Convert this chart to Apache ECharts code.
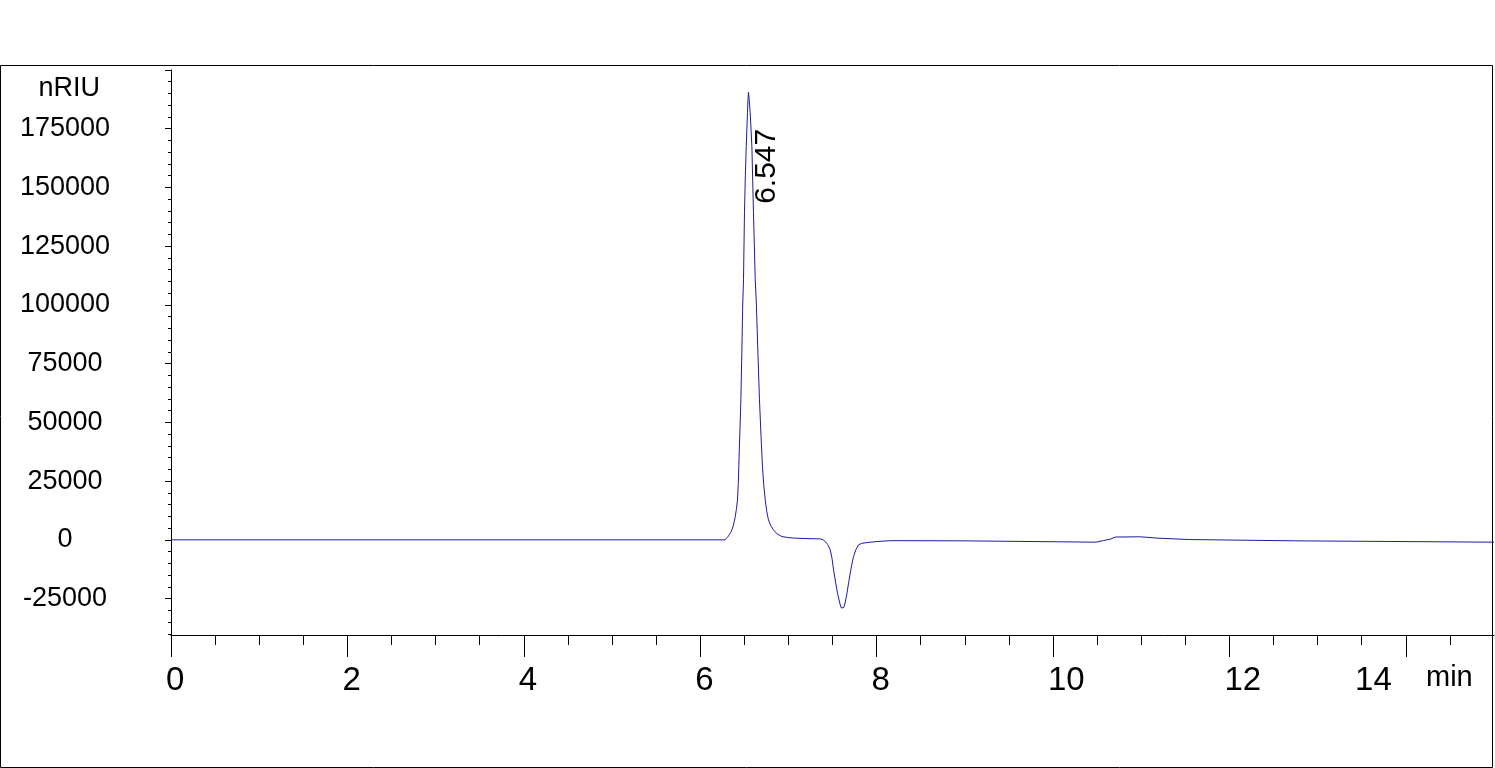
<!DOCTYPE html>
<html>
<head>
<meta charset="utf-8">
<script src="https://cdn.jsdelivr.net/npm/echarts@6/dist/echarts.min.js"></script>
<style>
html,body{margin:0;padding:0;background:#fff;}
#chart{width:1495px;height:768px;}
</style>
</head>
<body>
<div id="chart"></div>
<script>
// Retention time (min)
var timeMin = [0, 6.28, 6.295, 6.31, 6.33, 6.345, 6.359, 6.375, 6.397, 6.41, 6.423, 6.432, 6.44, 6.45, 6.461, 6.472,
  6.482, 6.491, 6.502, 6.512, 6.522, 6.536, 6.542, 6.547, 6.553, 6.56, 6.567, 6.586, 6.604, 6.624, 6.635, 6.655,
  6.672, 6.69, 6.706, 6.72, 6.737, 6.755, 6.774, 6.8, 6.831, 6.87, 6.926, 7.0, 7.077, 7.2, 7.361, 7.39,
  7.418, 7.445, 7.475, 7.495, 7.512, 7.535, 7.557, 7.585, 7.6, 7.614, 7.628, 7.645, 7.664, 7.683, 7.701, 7.72,
  7.738, 7.765, 7.795, 7.83, 7.89, 8.004, 8.155, 8.99, 9.01, 10.488, 10.571, 10.65, 10.707, 10.99, 11.0, 11.19,
  11.2, 11.55, 11.56, 12.75, 12.77, 15];
// Detector signal (nRIU)
var signal = [0, 0, 300, 1100, 2200, 3100, 4260, 6000, 9790, 13000, 17030, 24000, 34000, 46000, 59610, 80000,
  100000, 110710, 139240, 155000, 167470, 181820, 187500, 190500, 188500, 185000, 181820, 167470, 139240, 110710, 102190, 79000,
  59610, 44000, 31080, 23500, 17030, 12000, 8520, 6000, 4260, 2600, 1400, 950, 720, 550, 400, 150,
  -720, -2000, -4260, -8000, -12770, -18000, -22700, -27300, -29000, -29500, -28800, -26500, -22700, -18200, -14180, -10300,
  -7110, -4200, -2130, -1500, -1150, -720, -350, -425, -980, -980, -300, 300, 1200, 1300, 720, 720,
  128, 128, -425, -425, -980, -980];

var xMajorTicks = [0, 2, 4, 6, 8, 10, 12, 14];
var xLabels = [0, 2, 4, 6, 8, 10, 12];
var xLastLabel = [14];
var yMajorTicks = [-25000, 0, 25000, 50000, 75000, 100000, 125000, 150000, 175000, 200000];
var yLabels = [-25000, 0, 25000, 50000, 75000, 100000, 125000, 150000, 175000];

var xMinorTicks = [];
for (var m = 0.5; m < 15; m += 0.5) xMinorTicks.push(m);
var yMinorTicks = [];
for (var n = -40000; n <= 200000; n += 5000) yMinorTicks.push(n);

var peakIdx = 0;
for (var i = 1; i < signal.length; i++) if (signal[i] > signal[peakIdx]) peakIdx = i;
var peakLabel = timeMin[peakIdx].toFixed(3);

var seriesData = timeMin.map(function (t, i) { return [t, signal[i]]; });

var FONT = "'Liberation Sans', Arial, sans-serif";
var plain = function (v) { return String(v); };
var chart = echarts.init(document.getElementById('chart'));
chart.setOption({
  animation: false,
  backgroundColor: '#ffffff',
  graphic: [{
    type: 'rect', silent: true, z: -1,
    shape: { x: 0.5, y: 65.5, width: 1492, height: 702 },
    style: { fill: 'none', stroke: '#000', lineWidth: 1 }
  }],
  grid: { left: 171, top: 70, width: 1323, height: 565, containLabel: false },
  xAxis: [{
    type: 'value', min: 0, max: 15,
    axisLine: { show: true, onZero: false, lineStyle: { color: '#000', width: 1 } },
    axisTick: { show: true, length: 22, customValues: xMajorTicks, lineStyle: { color: '#000' } },
    axisLabel: {
      show: true, customValues: xLabels, margin: 29, align: 'center',
      formatter: function (v) { return '{a|' + v + '}'; },
      rich: { a: { width: 10, align: 'left', color: '#000', fontFamily: FONT, fontSize: 33 } },
      color: '#000', fontFamily: FONT, fontSize: 33
    },
    splitLine: { show: false }
  }, {
    type: 'value', min: 0, max: 15, position: 'bottom', gridIndex: 0,
    axisLine: { show: false, onZero: false },
    axisTick: { show: true, length: 10, customValues: xMinorTicks, lineStyle: { color: '#000' } },
    axisLabel: { show: true, customValues: xLastLabel, formatter: plain, margin: 29, align: 'right', padding: [0, 14, 0, 0], color: '#000', fontFamily: FONT, fontSize: 33 },
    splitLine: { show: false }
  }, {
    type: 'value', min: 0, max: 15, position: 'bottom', gridIndex: 0, offset: 43,
    name: 'min', nameLocation: 'end', nameGap: -68,
    nameTextStyle: { color: '#000', fontFamily: FONT, fontSize: 29, align: 'left', verticalAlign: 'middle' },
    axisLine: { show: false, onZero: false },
    axisTick: { show: false },
    axisLabel: { show: false },
    splitLine: { show: false }
  }],
  yAxis: [{
    type: 'value', min: -40500, max: 200000,
    name: 'nRIU', nameLocation: 'end', nameGap: -19,
    nameTextStyle: { color: '#000', fontFamily: FONT, fontSize: 27, align: 'right', verticalAlign: 'middle', padding: [0, 71, 0, 0] },
    axisLine: { show: true, onZero: false, lineStyle: { color: '#000', width: 1 } },
    axisTick: { show: true, length: 6, customValues: yMajorTicks, lineStyle: { color: '#000' } },
    axisLabel: { show: true, customValues: yLabels, formatter: plain, margin: 106, align: 'center', verticalAlign: 'middle', padding: [0, 0, 9, 0], color: '#000', fontFamily: FONT, fontSize: 27 },
    splitLine: { show: false }
  }, {
    type: 'value', min: -40500, max: 200000, position: 'left', gridIndex: 0,
    axisLine: { show: false, onZero: false },
    axisTick: { show: true, length: 3, customValues: yMinorTicks, lineStyle: { color: '#000' } },
    axisLabel: { show: false },
    splitLine: { show: false }
  }],
  series: [{
    type: 'line', xAxisIndex: 0, yAxisIndex: 0,
    data: seriesData,
    showSymbol: false, symbol: 'none',
    lineStyle: { color: '#1c1ca0', width: 1 },
    itemStyle: { color: '#1c1ca0' },
    markPoint: {
      symbol: 'circle', symbolSize: 1, silent: true,
      itemStyle: { color: 'rgba(0,0,0,0)' },
      data: [{ type: 'max', valueDim: 'y' }],
      label: {
        show: true, position: 'inside', rotate: 90, offset: [-74, 18],
        formatter: function () { return peakLabel; },
        color: '#000', fontFamily: FONT, fontSize: 30
      }
    }
  }]
});
</script>
</body>
</html>
